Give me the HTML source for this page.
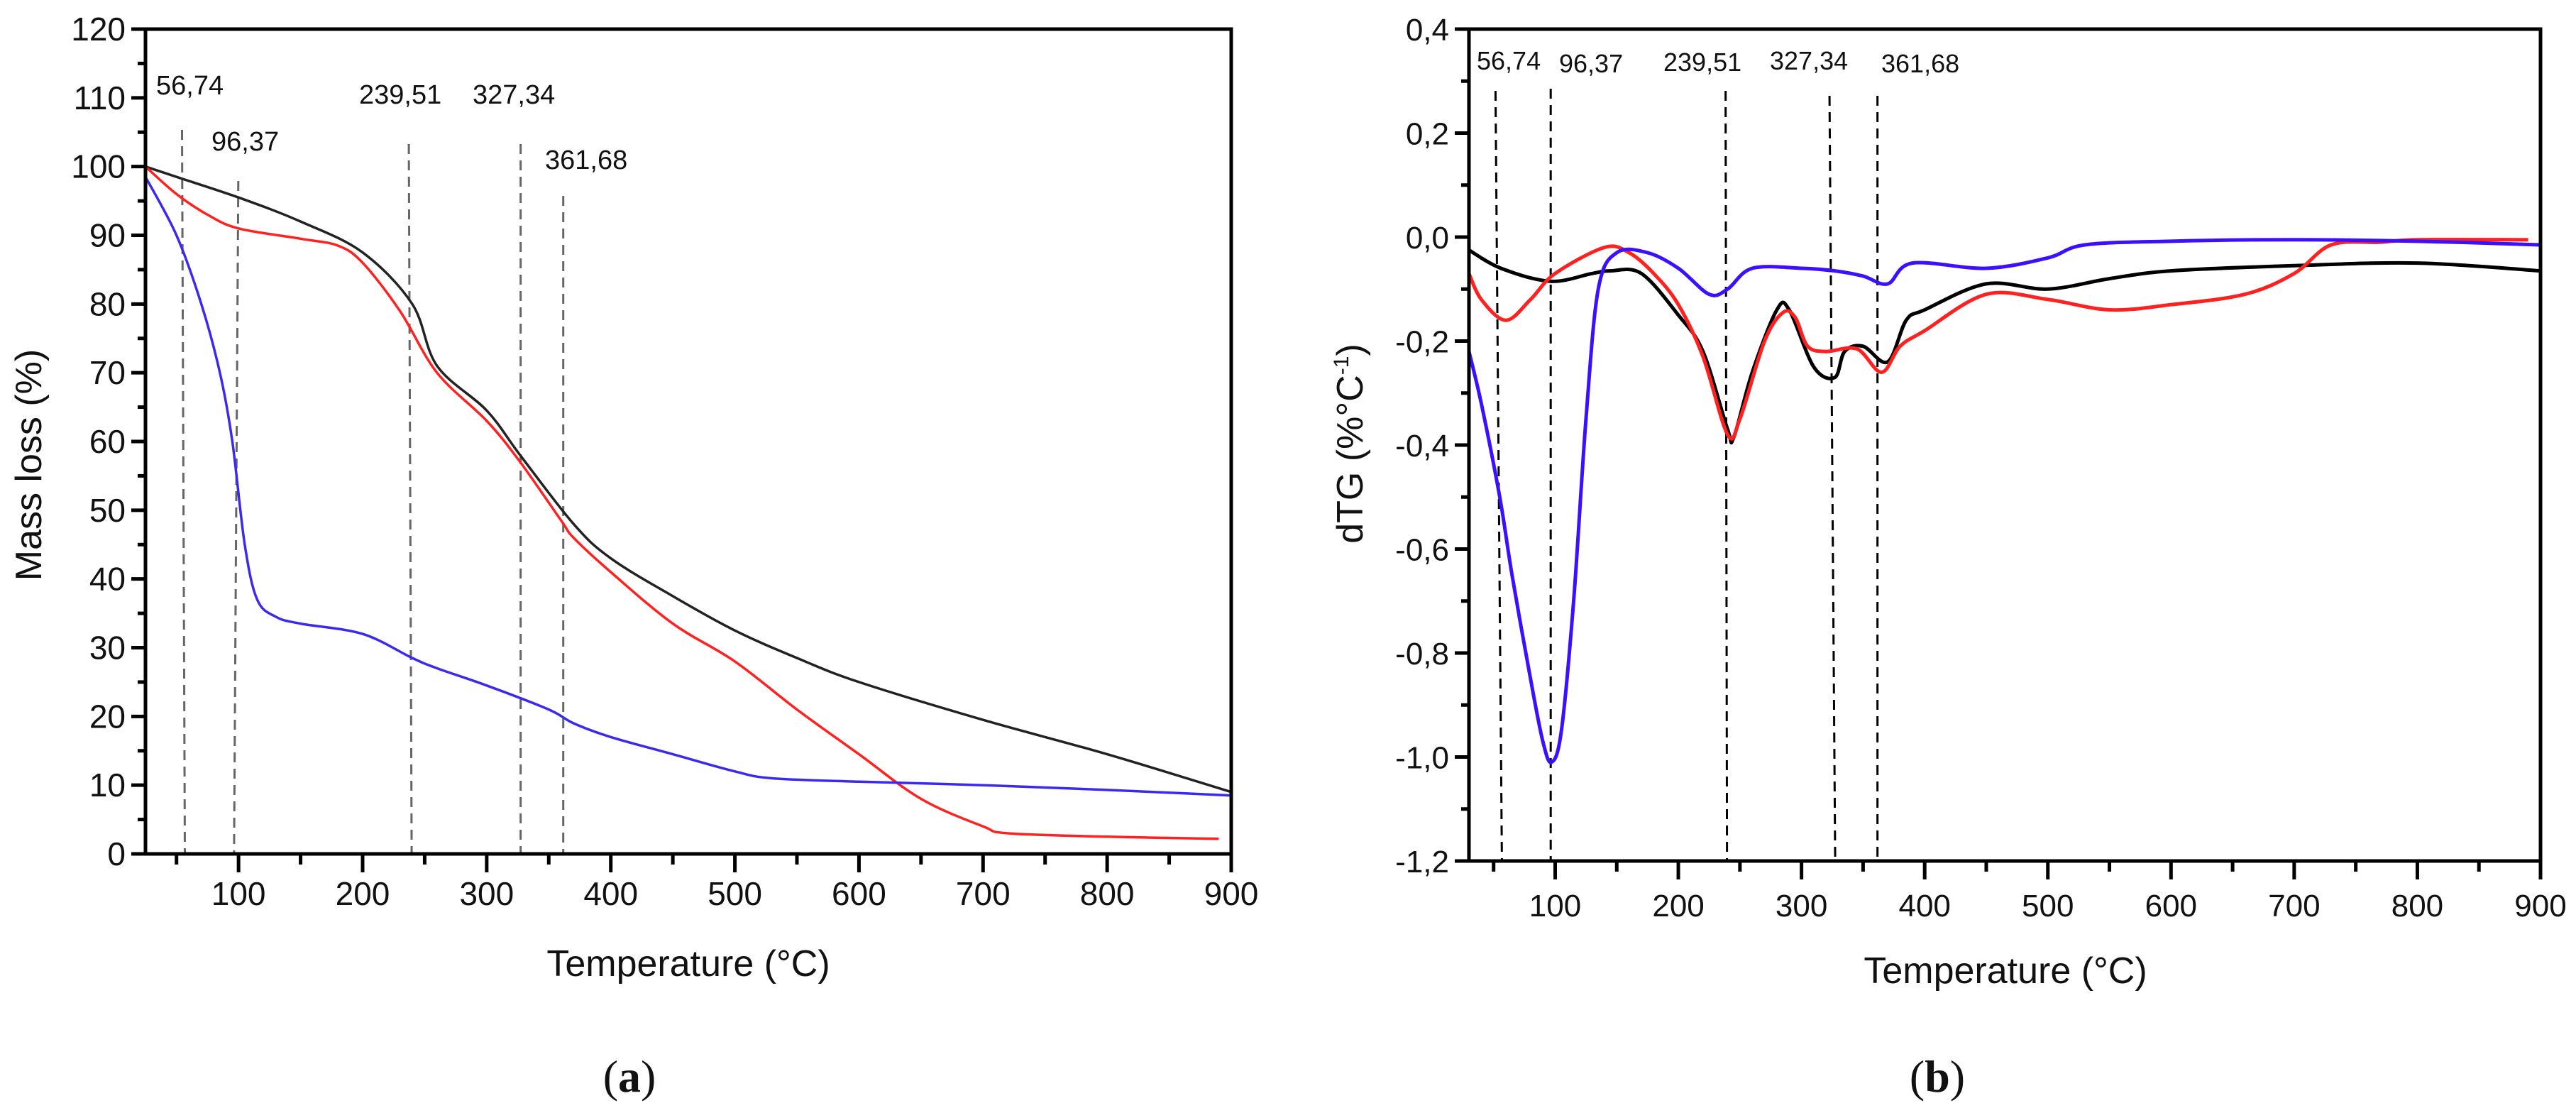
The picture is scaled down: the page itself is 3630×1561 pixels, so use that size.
<!DOCTYPE html>
<html><head><meta charset="utf-8">
<style>
html,body{margin:0;padding:0;background:#fff;}
svg{display:block;}
text{font-family:"Liberation Sans",Arial,sans-serif;fill:#111;}
</style></head>
<body>
<svg id="fig" width="3630" height="1561" viewBox="0 0 3630 1561" xmlns="http://www.w3.org/2000/svg"></svg>
<script>
// ---------- Chart (a) data: mass loss (%) ----------
const aBlackT = [25,50,100,150,200,240,260,300,327,370,400,450,500,550,600,700,800,900];
const aBlackV = [100,98.5,95.5,92,87.5,80,71,64.5,58,48,43,37.5,32.5,28.5,25,19.5,14.5,9];
const aRedT = [25,50,75,100,150,180,200,230,260,300,327,360,370,400,450,500,550,600,650,700,720,800,890];
const aRedV = [100,96,93,91,89.5,88.5,86,79,70,63,57,48.5,46,41,33.5,28,21,14.5,8,4,3,2.5,2.2];
const aBlueT = [25,50,70,85,95,105,115,130,150,200,240,260,300,350,370,400,450,500,530,600,700,800,900];
const aBlueV = [98.5,90,80,70,60,45,37,34.5,33.5,32,28.5,27,24.5,21,19,17,14.5,12,11,10.5,10,9.3,8.5];
const aYTicks = [0,10,20,30,40,50,60,70,80,90,100,110,120];
const aXTicks = [100,200,300,400,500,600,700,800,900];
const peakTemps = [56.74,96.37,239.51,327.34,361.68];
const peakLabels = ["56,74","96,37","239,51","327,34","361,68"];

// ---------- Chart (b) data: dTG (%/°C) ----------
const bBlackT = [30,56,96,130,145,170,200,220,240,245,260,280,290,310,327,335,350,370,385,400,450,500,550,600,700,800,900];
const bBlackV = [-0.025,-0.06,-0.085,-0.07,-0.065,-0.07,-0.15,-0.22,-0.37,-0.385,-0.26,-0.14,-0.14,-0.25,-0.27,-0.22,-0.21,-0.24,-0.16,-0.14,-0.09,-0.1,-0.08,-0.065,-0.055,-0.05,-0.065];
const bRedT = [30,40,60,80,100,140,160,180,200,220,240,250,270,285,295,305,320,345,365,380,400,450,500,550,600,660,700,730,770,800,890];
const bRedV = [-0.07,-0.12,-0.16,-0.12,-0.07,-0.02,-0.03,-0.07,-0.13,-0.23,-0.38,-0.35,-0.2,-0.145,-0.155,-0.21,-0.22,-0.215,-0.26,-0.21,-0.18,-0.11,-0.12,-0.14,-0.13,-0.11,-0.07,-0.015,-0.01,-0.005,-0.005];
const bBlueT = [30,40,55,65,80,90,97,105,115,125,135,150,175,200,225,240,260,300,327,350,370,390,450,500,530,600,700,800,900];
const bBlueV = [-0.22,-0.32,-0.5,-0.65,-0.85,-0.97,-1.01,-0.95,-0.7,-0.35,-0.1,-0.03,-0.03,-0.06,-0.11,-0.1,-0.06,-0.06,-0.065,-0.075,-0.09,-0.05,-0.06,-0.04,-0.015,-0.008,-0.005,-0.008,-0.015];
const bYTicks = [0.4,0.2,0.0,-0.2,-0.4,-0.6,-0.8,-1.0,-1.2];
const bXTicks = [100,200,300,400,500,600,700,800,900];

const NS = "http://www.w3.org/2000/svg";
const svg = document.getElementById('fig');
function el(tag, attrs, parent){
  const e = document.createElementNS(NS, tag);
  for (const k in attrs) e.setAttribute(k, attrs[k]);
  (parent||svg).appendChild(e);
  return e;
}
function smoothPath(pts){
  let d = "M"+pts[0][0].toFixed(1)+","+pts[0][1].toFixed(1);
  for (let i=0;i<pts.length-1;i++){
    const p0=pts[Math.max(0,i-1)], p1=pts[i], p2=pts[i+1], p3=pts[Math.min(pts.length-1,i+2)];
    const c1x=p1[0]+(p2[0]-p0[0])/6, c1y=p1[1]+(p2[1]-p0[1])/6;
    const c2x=p2[0]-(p3[0]-p1[0])/6, c2y=p2[1]-(p3[1]-p1[1])/6;
    d+=" C"+c1x.toFixed(1)+","+c1y.toFixed(1)+" "+c2x.toFixed(1)+","+c2y.toFixed(1)+" "+p2[0].toFixed(1)+","+p2[1].toFixed(1);
  }
  return d;
}

function drawChart(cfg){
  const g = el('g', {});
  
  
  const X = t => cfg.x0 + (t - cfg.tmin) * (cfg.x1 - cfg.x0) / (cfg.tmax - cfg.tmin);
  const Y = v => cfg.y0 + (v - cfg.vmin) * (cfg.y1 - cfg.y0) / (cfg.vmax - cfg.vmin);
  peakTemps.forEach((t,i)=>{
    const ln = el('line', {x1:X(t)+cfg.slant[i], y1:cfg.dashTop[i], x2:X(t), y2:cfg.y0, stroke:cfg.dashColor, 'stroke-width':3, 'stroke-dasharray':'14,9'}, g);
    
    
    const tx = el('text', {x:cfg.labX[i], y:cfg.labY[i], 'font-size':cfg.peakFont, 'text-anchor':'start'}, g);
    tx.textContent = peakLabels[i];
    
    
  });
  cfg.series.forEach(s=>{
    const pts = s.t.map((t,i)=>[X(t), Y(s.v[i])]);
    const p = el('path', {d:smoothPath(pts), fill:'none', stroke:s.color, 'stroke-width':cfg.lw, 'stroke-linejoin':'round'}, g);
    
    
  });
  const fr = el('rect', {x:cfg.x0, y:cfg.y1, width:cfg.x1-cfg.x0, height:cfg.y0-cfg.y1, fill:'none', stroke:'#000', 'stroke-width':5}, g);
  
  
  cfg.yTicks.forEach(v=>{
    const y = Y(v);
    el('line', {x1:cfg.x0-20, y1:y, x2:cfg.x0, y2:y, stroke:'#000','stroke-width':5}, g);
    const tx = el('text', {x:cfg.x0-28, y:y+16, 'font-size':cfg.tickFont, 'text-anchor':'end'}, g);
    tx.textContent = cfg.yFmt(v);
    
    
  });
  for (let i=0;i<cfg.yTicks.length-1;i++){
    const y = Y((cfg.yTicks[i]+cfg.yTicks[i+1])/2);
    el('line', {x1:cfg.x0-11, y1:y, x2:cfg.x0, y2:y, stroke:'#000','stroke-width':5}, g);
  }
  cfg.xTicks.forEach(t=>{
    const x = X(t);
    el('line', {x1:x, y1:cfg.y0, x2:x, y2:cfg.y0+26, stroke:'#000','stroke-width':5}, g);
    const tx = el('text', {x:x, y:cfg.y0+cfg.xLabDy, 'font-size':cfg.tickFont, 'text-anchor':'middle'}, g);
    tx.textContent = String(t);
    
    
    const m = t-50;
    if (m > cfg.tmin) el('line', {x1:X(m), y1:cfg.y0, x2:X(m), y2:cfg.y0+15, stroke:'#000','stroke-width':5}, g);
  });
  const xt = el('text', {x:cfg.xTitleX, y:cfg.xTitleY, 'font-size':52, 'text-anchor':'middle'}, g);
  xt.textContent = 'Temperature (°C)';
  
  
  const yt = el('text', {x:0, y:0, 'font-size':52, 'text-anchor':'middle', transform:'translate('+cfg.yTitleX+','+cfg.yTitleY+') rotate(-90)'}, g);
  if (cfg.yTitleSup){
    yt.appendChild(document.createTextNode('dTG (%°C'));
    const sp = el('tspan', {'font-size':30, dy:-20}, yt); sp.textContent='-1';
    const sp2 = el('tspan', {dy:20}, yt); sp2.textContent=')';
  } else yt.textContent = cfg.yTitle;
  
  
  const pl = el('text', {x:cfg.panelX, y:1538, 'font-size':64, 'text-anchor':'middle', style:'font-family:"Liberation Serif",serif'}, g);
  pl.appendChild(document.createTextNode('('));
  const b = el('tspan', {'font-weight':'bold'}, pl); b.textContent = cfg.panel;
  pl.appendChild(document.createTextNode(')'));
  
  
}

drawChart({
  name:'chart-a-mass-loss', x0:205, x1:1735, y0:1203, y1:41, tmin:25, tmax:900, vmin:0, vmax:120,
  yTicks:aYTicks, xTicks:aXTicks, yFmt:v=>String(v), tickFont:46, xLabDy:72, lw:3.5,
  dashColor:'#666', slant:[-4,6,-4,0,0], dashTop:[183,255,203,203,276],
  labX:[220,298,506,666,768], labY:[133,212,146,146,238], peakFont:38,
  series:[
    {name:'series-black-mass-loss', color:'#222', t:aBlackT, v:aBlackV},
    {name:'series-red-mass-loss', color:'#ff2020', t:aRedT, v:aRedV},
    {name:'series-blue-mass-loss', color:'#3a2af0', t:aBlueT, v:aBlueV}],
  xTitleX:970, xTitleY:1375, yTitleX:58, yTitleY:655, yTitle:'Mass loss (%)', panel:'a', panelX:887
});
drawChart({
  name:'chart-b-dtg', x0:2070, x1:3580, y0:1213, y1:41, tmin:30, tmax:900, vmin:-1.2, vmax:0.4,
  yTicks:bYTicks, xTicks:bXTicks, yFmt:v=>v.toFixed(1).replace('.',',').replace('-0,0','0,0'), tickFont:44, xLabDy:78, lw:5,
  dashColor:'#000', slant:[-9,0,-2,-8,0], dashTop:[128,125,128,135,135],
  labX:[2081,2197,2344,2494,2651], labY:[98,102,100,98,102], peakFont:36,
  series:[
    {name:'series-black-dtg', color:'#000', t:bBlackT, v:bBlackV},
    {name:'series-red-dtg', color:'#ff2020', t:bRedT, v:bRedV},
    {name:'series-blue-dtg', color:'#3a10ff', t:bBlueT, v:bBlueV}],
  xTitleX:2826, xTitleY:1385, yTitleX:1920, yTitleY:625, yTitleSup:true, panel:'b', panelX:2730
});
</script>
</body></html>
